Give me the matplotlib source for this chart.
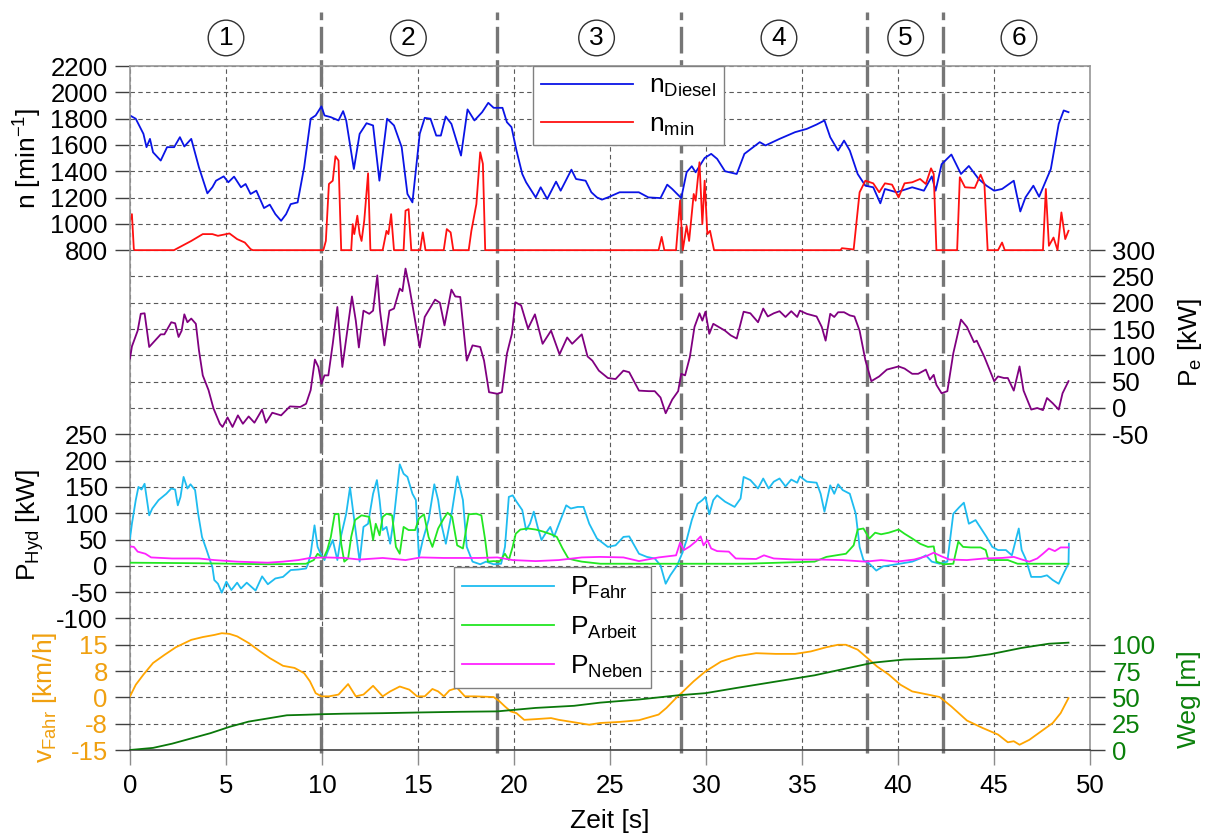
import numpy as np
import matplotlib
matplotlib.use("Agg")
import matplotlib.pyplot as plt

# ============================================================
# DATA
# ============================================================

# Engine speed n_Diesel [1/min]
t_n_diesel = [0, 0.3, 0.7, 0.86, 1.04, 1.2, 1.6, 1.93, 2.3, 2.6, 2.83, 3.19, 3.59, 4.03, 4.29,
              4.48, 4.88, 5.12, 5.42, 5.78, 6.02, 6.28, 6.58, 6.98, 7.28, 7.57, 7.87, 8.13, 8.37,
              8.73, 9.07, 9.41, 9.67, 9.97, 10.13, 10.46, 10.86, 11.1, 11.26, 11.66, 11.96, 12.32,
              12.66, 12.99, 13.39, 13.75, 14.15, 14.45, 14.71, 15.09, 15.35, 15.65, 15.95, 16.19,
              16.44, 16.74, 17.24, 17.58, 17.94, 18.34, 18.66, 18.94, 19.4, 19.63, 19.87, 20.13,
              20.43, 20.63, 21.13, 21.39, 21.73, 22.19, 22.43, 22.99, 23.23, 23.73, 24.03, 24.32,
              24.58, 24.89, 25.5, 26.5, 27.0, 27.63, 27.98, 28.24, 28.71, 28.99, 29.26, 29.46,
              29.93, 30.27, 30.58, 30.99, 31.6, 32.0, 32.8, 33.1, 33.83, 34.64, 35.25, 35.76,
              36.17, 36.47, 36.88, 37.19, 37.49, 37.9, 38.3, 38.71, 39.08, 39.32, 39.93, 40.74,
              41.35, 41.76, 41.96, 42.27, 42.78, 43.28, 43.69, 44.2, 44.61, 45.01, 45.42, 46.03,
              46.37, 46.64, 47.05, 47.35, 47.96, 48.37, 48.63, 48.88]
n_diesel = [1824, 1799, 1684, 1583, 1646, 1544, 1481, 1583, 1583, 1659, 1588, 1646, 1430, 1232, 1278,
            1328, 1361, 1316, 1359, 1278, 1303, 1227, 1252, 1120, 1146, 1074, 1023, 1074, 1150,
            1163, 1430, 1799, 1824, 1893, 1824, 1811, 1786, 1857, 1786, 1417, 1684, 1765,
            1748, 1328, 1799, 1748, 1583, 1227, 1163, 1684, 1806, 1799, 1671, 1671,
            1816, 1760, 1519, 1870, 1786, 1849, 1920, 1882, 1882, 1773, 1735, 1557,
            1379, 1316, 1201, 1278, 1189, 1321, 1252, 1412, 1341, 1328, 1240, 1201,
            1184, 1201, 1240, 1240, 1201, 1196, 1298, 1265, 1196, 1392, 1438, 1392,
            1501, 1532, 1494, 1400, 1379, 1532, 1621, 1596, 1646, 1697, 1722, 1755,
            1786, 1659, 1557, 1633, 1557, 1379, 1290, 1278, 1156, 1265, 1240, 1278,
            1252, 1361, 1252, 1453, 1527, 1379, 1440, 1341, 1290, 1252, 1265, 1328,
            1094, 1201, 1290, 1206, 1417, 1760, 1862, 1849]

# Minimum speed n_min [1/min]
t_n_min = [0, 0.1, 0.2, 0.25, 2.29, 3.19, 3.79, 4.29, 4.58, 5.18, 5.58, 5.98, 6.28, 6.4,
           10.07, 10.2, 10.36, 10.56, 10.7, 10.86, 11.0, 11.52, 11.6, 11.68, 11.84, 11.96, 12.06,
           12.2, 12.4, 12.52, 13.16, 13.36, 13.46, 13.6, 13.75, 14.25, 14.35, 14.51, 14.65,
           15.11, 15.25, 15.39, 16.34, 16.5, 16.7, 16.84, 17.64, 17.78, 18.04, 18.24, 18.38, 18.5,
           27.53, 27.69, 27.83, 28.44, 28.65, 28.79, 28.99, 29.12, 29.36, 29.46, 29.66, 29.81,
           29.93, 30.07, 30.21, 30.42, 37.0, 37.08, 37.69, 38.0, 38.3, 38.71, 39.02, 39.32,
           39.69, 40.03, 40.34, 40.74, 41.15, 41.45, 41.72, 41.86, 42.0, 43.08, 43.22, 43.49,
           44.0, 44.3, 44.5, 44.67, 45.21, 45.42, 45.56, 47.55, 47.7, 47.86, 48.1, 48.31, 48.51,
           48.71, 48.88]
n_min = [1024, 1074, 808, 800, 800, 870, 922, 922, 909, 927, 884, 858, 808, 800,
         800, 870, 1303, 1328, 1514, 1481, 800, 800, 998, 922, 1062, 922, 870,
         1024, 1384, 800, 800, 947, 922, 1074, 800, 800, 1100, 1112, 800,
         800, 935, 800, 800, 960, 935, 800, 800, 947, 1150, 1544, 1456, 800,
         800, 901, 800, 800, 1176, 800, 985, 870, 1227, 1176, 1468, 998,
         1328, 922, 947, 800, 800, 815, 805, 1240, 1328, 1308, 1240, 1308,
         1298, 1201, 1308, 1316, 1341, 1303, 1422, 1379, 800, 800, 1354, 1278,
         1273, 1374, 1303, 800, 800, 858, 800, 800, 1265, 833, 896, 800, 1087,
         884, 947]

# Engine power P_e [kW]
t_pe = [0, 0.1, 0.4, 0.56, 0.76, 1.0, 1.3, 1.6, 1.79, 2.15, 2.35, 2.53, 2.69, 2.83, 2.99, 3.19,
        3.43, 3.59, 3.79, 4.09, 4.35, 4.68, 4.82, 5.08, 5.34, 5.62, 5.88, 6.18, 6.48, 6.88, 7.08,
        7.41, 7.87, 8.33, 8.87, 9.17, 9.41, 9.63, 9.81, 9.97, 10.13, 10.33, 10.56, 10.8, 11.06,
        11.32, 11.56, 11.76, 11.92, 12.16, 12.46, 12.66, 12.88, 13.02, 13.25, 13.51, 13.75,
        14.05, 14.19, 14.35, 14.55, 14.85, 15.09, 15.35, 15.89, 16.14, 16.38, 16.74, 16.94,
        17.2, 17.54, 17.84, 18.24, 18.44, 18.7, 19.13, 19.37, 19.63, 19.89, 20.07, 20.37,
        20.73, 21.09, 21.49, 21.93, 22.37, 22.77, 23.03, 23.53, 23.83, 24.08, 24.42,
        24.89, 25.29, 25.7, 26.0, 26.51, 27.02, 27.33, 27.63, 27.9, 28.24, 28.55, 28.71, 28.91,
        29.16, 29.4, 29.66, 29.81, 29.97, 30.17, 30.38, 30.99, 31.29, 31.6, 31.96, 32.31,
        32.71, 32.98, 33.22, 33.53, 33.83, 34.14, 34.44, 34.75, 34.89, 35.25, 35.76, 36.03,
        36.23, 36.47, 36.68, 36.88, 37.19, 37.49, 37.73, 38.0, 38.3, 38.61, 39.02, 39.42,
        40.03, 40.34, 40.74, 41.05, 41.45, 41.66, 41.86, 42.0, 42.27, 42.57, 42.88, 43.28,
        43.59, 43.96, 44.1, 44.5, 45.01, 45.21, 45.52, 45.72, 46.03, 46.33, 46.54, 46.94,
        47.25, 47.55, 47.76, 48.06, 48.37, 48.57, 48.88]
p_e = [94, 117, 147, 179, 180, 116, 128, 140, 140, 163, 161, 135, 147, 178, 163, 170,
       160, 110, 62, 34, -1, -30, -36, -18, -36, -14, -30, -16, -28, -3, -28,
       -9, -14, 3, 2, 8, 34, 92, 78, 46, 62, 62, 122, 192, 78,
       147, 212, 166, 115, 185, 179, 185, 252, 185, 119, 185, 189,
       227, 222, 265, 230, 166, 115, 173, 206, 200, 157, 225, 212,
       211, 90, 119, 116, 90, 30, 27, 30, 103, 141, 201, 195,
       151, 178, 122, 147, 102, 134, 122, 140, 98, 90, 71,
       57, 55, 71, 68, 33, 32, 32, 20, -10, 16, 32, 65, 62,
       97, 154, 180, 166, 183, 141, 160, 147, 138, 132, 183, 180,
       163, 189, 174, 180, 184, 173, 184, 173, 185, 179, 174, 154,
       128, 179, 173, 182, 182, 176, 174, 147, 91, 51, 60, 73,
       79, 75, 65, 65, 73, 54, 63, 44, 28, 32, 104, 168,
       154, 125, 128, 97, 51, 60, 57, 57, 33, 79, 33, -3,
       0, -4, 19, 9, -3, 28, 51]

# Hydraulic power, drive P_Fahr [kW]
t_fahr = [0, 0.1, 0.3, 0.44, 0.6, 0.76, 1.0, 1.16, 1.49, 1.89, 2.15, 2.35, 2.49, 2.63, 2.79, 2.99,
          3.15, 3.39, 3.55, 3.75, 3.99, 4.19, 4.29, 4.39, 4.58, 4.78, 5.02, 5.28, 5.58, 5.78, 6.08,
          6.54, 6.88, 7.18, 7.57, 7.97, 8.37, 8.77, 9.17, 9.27, 9.41, 9.61, 9.77, 9.93, 10.13,
          10.33, 10.56, 10.8, 11.0, 11.26, 11.46, 11.66, 11.96, 12.16, 12.4, 12.66, 12.86, 13.0,
          13.16, 13.36, 13.55, 13.75, 14.05, 14.25, 14.45, 14.71, 14.89, 15.05, 15.25, 15.55,
          15.85, 16.05, 16.25, 16.45, 16.75, 17.05, 17.34, 17.54, 17.84, 18.24, 18.54, 18.94,
          19.33, 19.53, 19.73, 19.93, 20.13, 20.43, 20.63, 20.83, 21.03, 21.23, 21.43, 21.63,
          21.89, 22.08, 22.42, 22.72, 22.96, 23.32, 23.62, 23.92, 24.32, 24.89, 25.29, 25.7,
          26.0, 26.51, 26.92, 27.33, 27.63, 27.9, 28.14, 28.5, 28.75, 28.99, 29.26, 29.56, 29.81,
          29.97, 30.17, 30.38, 30.58, 30.99, 31.49, 31.8, 31.96, 32.31, 32.71, 32.98, 33.26,
          33.53, 33.83, 34.14, 34.44, 34.75, 34.89, 35.25, 35.76, 35.97, 36.17, 36.47, 36.68,
          36.88, 37.12, 37.49, 37.8, 38.0, 38.2, 38.51, 38.87, 39.22, 39.93, 40.74, 41.15,
          41.45, 41.76, 42.17, 42.57, 42.88, 43.18, 43.43, 43.69, 44.04, 44.61, 44.91, 45.21,
          45.62, 45.93, 46.29, 46.44, 46.64, 46.94, 47.45, 47.76, 48.06, 48.37, 48.67, 48.88,
          48.9]
p_fahr = [52, 80, 125, 150, 145, 156, 96, 109, 125, 137, 147, 145, 115, 131, 169, 147,
          155, 144, 99, 55, 30, 8, -2, -27, -34, -51, -30, -46, -32, -43, -32,
          -47, -20, -35, -24, -21, -8, -7, -5, 3, 23, 77, 36, 23, 11,
          30, 49, 11, 58, 99, 149, 93, 8, 74, 80, 137, 163, 125,
          68, 74, 42, 93, 193, 175, 169, 137, 125, 17, 49, 87,
          155, 125, 74, 42, 99, 170, 125, 36, 8, 3, 8, 3,
          4, 36, 131, 134, 122, 106, 68, 80, 103, 74, 49, 61,
          74, 55, 87, 115, 109, 112, 112, 80, 52, 36, 39, 55,
          56, 23, 17, 14, 1, -34, -18, 1, 23, 49, 87, 118, 125,
          131, 98, 125, 134, 122, 112, 128, 169, 163, 147, 166, 147,
          160, 166, 151, 164, 158, 170, 160, 158, 137, 103, 153, 137,
          155, 144, 137, 99, 36, 11, 4, -9, -1, 3, 8, 14,
          20, 8, 4, 8, 99, 111, 120, 80, 87, 55, 36, 30,
          30, 20, 71, 30, 14, -21, -21, -18, -27, -34, -11, 4,
          42]

# Hydraulic power, working hydraulics P_Arbeit [kW]
t_arbeit = [0, 3.5, 7.18, 9.17, 9.57, 9.77, 10.07, 10.27, 10.46, 10.66, 10.86, 11.0, 11.16, 11.36,
            11.52, 11.72, 12.06, 12.46, 12.66, 12.8, 13.0, 13.16, 13.36, 13.65, 13.85, 14.05,
            14.25, 14.51, 14.85, 15.05, 15.31, 15.55, 15.75, 16.05, 16.34, 16.54, 16.78, 17.04,
            17.34, 17.64, 18.04, 18.3, 18.5, 18.64, 18.94, 19.24, 19.53, 19.73, 19.93, 20.09,
            20.33, 20.73, 21.13, 21.53, 21.93, 22.23, 22.53, 22.83, 23.13, 23.53, 24.5, 32.0,
            35.66, 36.27, 37.29, 37.69, 37.9, 38.2, 38.51, 38.81, 39.12, 39.52, 40.03, 40.34,
            40.74, 41.15, 41.56, 41.86, 42.0, 42.37, 42.88, 43.14, 43.39, 43.79, 44.3, 44.57,
            44.71, 45.21, 45.72, 46.23, 48.88]
p_arbeit = [6, 5, 3, 4, 11, 23, 14, 30, 55, 98, 99, 42, 8, 14,
            55, 87, 96, 93, 49, 80, 58, 93, 99, 96, 36, 23,
            74, 68, 68, 90, 98, 55, 36, 71, 90, 101, 93, 39,
            33, 98, 99, 96, 49, 8, 9, 8, 23, 11, 36, 61,
            69, 71, 69, 65, 60, 55, 33, 14, 11, 8, 4, 4,
            8, 17, 23, 39, 69, 71, 52, 63, 60, 63, 69, 61,
            52, 42, 36, 37, 8, 3, 4, 46, 36, 35, 35, 30,
            11, 11, 11, 4, 4]

# Hydraulic power, auxiliaries P_Neben [kW]
t_neben = [0, 0.2, 0.4, 0.8, 1.1, 2.19, 3.59, 4.39, 5.58, 7.18, 7.97, 8.77, 9.37, 10.17, 11.16,
           11.96, 13.16, 14.35, 15.15, 16.34, 18.14, 19.13, 19.93, 21.13, 22.33, 23.53, 24.48,
           25.7, 26.51, 27.53, 28.44, 28.65, 28.85, 29.16, 29.46, 29.72, 29.87, 30.07, 30.27,
           30.58, 31.19, 31.55, 32.61, 33.02, 33.53, 34.64, 35.86, 37.08, 38.3, 39.12, 39.93,
           40.84, 41.45, 41.86, 42.27, 42.68, 43.59, 44.5, 45.42, 46.03, 46.54, 46.84, 47.25,
           47.55, 47.86, 48.17, 48.47, 48.88]
p_neben = [37, 36, 27, 23, 16, 14, 14, 11, 8, 6, 8, 11, 15, 16, 15,
           12, 15, 11, 16, 15, 15, 16, 11, 9, 11, 16, 17,
           16, 9, 16, 20, 44, 30, 37, 46, 56, 39, 49, 33,
           28, 27, 14, 13, 20, 14, 12, 12, 11, 8, 11, 8,
           12, 18, 25, 18, 12, 11, 14, 15, 17, 11, 8, 14,
           23, 33, 28, 35, 35]

# Driving speed v_Fahr [km/h]
t_v = [0, 0.3, 0.7, 1.2, 1.79, 2.39, 3.19, 3.79, 4.39, 4.78, 5.18, 5.58, 6.18, 6.78, 7.28, 7.97,
       8.57, 9.07, 9.37, 9.67, 9.97, 10.37, 10.86, 11.36, 11.76, 12.16, 12.66, 13.16, 13.55,
       14.05, 14.55, 14.95, 15.35, 15.75, 16.05, 16.35, 16.64, 17.04, 17.44, 17.94, 18.94,
       19.24, 19.53, 19.83, 20.13, 20.53, 21.13, 21.93, 22.33, 23.13, 23.92, 24.48, 25.5,
       26.51, 27.53, 27.94, 28.44, 28.75, 29.36, 29.97, 30.78, 31.6, 32.61, 33.63, 34.64,
       35.46, 36.27, 36.88, 37.29, 37.9, 38.41, 38.91, 39.52, 40.13, 40.74, 41.56, 42.17,
       42.78, 43.59, 44.4, 45.21, 45.72, 46.03, 46.33, 46.84, 47.45, 48.06, 48.47, 48.88]
v_fahr = [0.3, 3.6, 6.5, 9.8, 12.1, 14.3, 16.4, 17.2, 17.8, 18.3, 18.1, 17.4, 15.5, 13.1, 11.2, 9.0,
          8.4, 6.9, 4.6, 1.2, 0.3, 0.3, 0.8, 3.8, 0.3, 0.8, 3.3, 0.3, 1.7,
          3.1, 2.2, 0.3, 0.3, 2.4, 1.7, 0.3, 2.0, 2.7, 0.3, 0.3, 0.1,
          -1.1, -2.6, -4.0, -4.5, -6.4, -6.2, -5.9, -6.4, -7.1, -7.8, -7.3, -7.0,
          -6.5, -4.9, -3.0, -0.2, 1.4, 4.6, 7.4, 10.2, 11.7, 12.6, 12.4, 12.4,
          13.1, 14.3, 15.0, 15.0, 13.6, 11.2, 8.8, 6.5, 3.6, 1.7, 0.8, 0.1,
          -2.6, -6.6, -8.7, -10.6, -12.8, -12.5, -13.5, -12.1, -9.7, -7.3, -4.5, -0.2]

# Travelled distance Weg [m]
t_weg = [0, 1.2, 2.19, 3.19, 4.19, 5.18, 6.18, 7.18, 8.17, 9.17, 9.97, 11.16, 13.16, 15.15, 17.14,
         19.13, 21.13, 23.13, 24.48, 26.51, 28.55, 29.97, 31.6, 33.63, 35.66, 37.69, 38.71,
         40.34, 42.37, 43.59, 44.81, 46.44, 47.86, 48.88]
weg = [0, 2, 6, 11, 16, 22, 27, 30, 33, 33.5, 34, 34.5, 35, 35.7, 36.3,
       36.7, 40, 42, 45, 48, 52, 54, 59, 65, 71, 79, 83,
       86, 87, 88, 91, 97, 101, 102]

# Phase boundaries [s] and phase labels
phase_bounds = [9.97, 19.14, 28.71, 38.36, 42.33]
phase_centers = [5.0, 14.5, 24.3, 33.8, 40.4, 46.3]
phase_labels = ["1", "2", "3", "4", "5", "6"]

# Axis ticks
n_ticks = [800, 1000, 1200, 1400, 1600, 1800, 2000, 2200]
pe_ticks = [-50, 0, 50, 100, 150, 200, 250, 300]
hyd_ticks = [-100, -50, 0, 50, 100, 150, 200, 250]
v_ticks = [-15, -7.5, 0, 7.5, 15]
v_tick_labels = ["-15", "-8", "0", "8", "15"]
weg_ticks = [0, 25, 50, 75, 100]

# ============================================================
# SETTINGS
# ============================================================

OUT_PNG = "out.png"

FS = 19
TICK_FS = 18.5

C_DIESEL = "#0a14e6"
C_NMIN = "#ff1010"
C_PE = "#800080"
C_FAHR = "#1ebcf0"
C_ARBEIT = "#22e622"
C_NEBEN = "#ff22ff"
C_V = "#ffa500"
C_V_TXT = "#f0a010"
C_WEG = "#0a780a"
C_WEG_TXT = "#0a800a"

# limits chosen so that all signals share one 26-step grid
N_LIM = (-3000, 2200)
PE_LIM = (-650, 650)
HYD_LIM = (-350, 950)
V_LIM = (-15, 180)
WEG_LIM = (0, 650)

plt.rcParams["font.family"] = ["Liberation Sans", "DejaVu Sans"]
plt.rcParams["mathtext.default"] = "regular"
plt.rcParams["axes.unicode_minus"] = False

# ============================================================
# PLOT
# ============================================================

fig = plt.figure(figsize=(12.12, 8.36), dpi=100)
ax_n = fig.add_axes([130 / 1212, 1 - 750 / 836, 960 / 1212, 684 / 836])

ax_pe = ax_n.twinx()
ax_hyd = ax_n.twinx()
ax_v = ax_n.twinx()
ax_w = ax_n.twinx()

ax_hyd.yaxis.tick_left()
ax_hyd.yaxis.set_label_position("left")
ax_v.yaxis.tick_left()
ax_v.yaxis.set_label_position("left")

for ax in [ax_pe, ax_hyd, ax_v, ax_w]:
    for sp in ax.spines.values():
        sp.set_visible(False)

for side in ["left", "top", "right"]:
    ax_n.spines[side].set_color("#969696")
    ax_n.spines[side].set_linewidth(1.2)
ax_n.spines["bottom"].set_color("#404040")
ax_n.spines["bottom"].set_linewidth(1.2)

ax_n.set_xlim(0, 50)
ax_n.set_ylim(*N_LIM)
ax_pe.set_ylim(*PE_LIM)
ax_hyd.set_ylim(*HYD_LIM)
ax_v.set_ylim(*V_LIM)
ax_w.set_ylim(*WEG_LIM)

# grid: major ticks for n, minor ticks fill the rest of the common grid
ax_n.set_xticks(range(0, 51, 5))
ax_n.set_yticks(n_ticks)
ax_n.set_yticks(np.arange(N_LIM[0] + 200, 800, 200), minor=True)
ax_n.grid(True, which="both", color="#5a5a5a", linestyle=(0, (4, 3)), linewidth=0.8)
ax_n.set_axisbelow(True)

ax_n.tick_params(axis="y", which="major", direction="out", length=11, width=1,
                 color="#404040", labelsize=TICK_FS, pad=5)
ax_n.tick_params(axis="y", which="minor", length=0)
ax_n.tick_params(axis="x", direction="out", length=11, width=1, color="#8c8c8c",
                 labelsize=TICK_FS, pad=6)

ax_pe.set_yticks(pe_ticks)
ax_hyd.set_yticks(hyd_ticks)
ax_v.set_yticks(v_ticks)
ax_v.set_yticklabels(v_tick_labels)
ax_w.set_yticks(weg_ticks)

for ax in [ax_pe, ax_hyd, ax_v, ax_w]:
    ax.tick_params(axis="y", direction="out", length=11, width=1, color="#404040",
                   labelsize=TICK_FS, pad=5)
ax_v.tick_params(axis="y", labelcolor=C_V_TXT)
ax_w.tick_params(axis="y", labelcolor=C_WEG_TXT)

# phase separators
for tb in phase_bounds:
    ax_n.axvline(tb, ymin=-0.005, ymax=1.079, color="#767676", linewidth=2.4,
                 linestyle=(0, (8, 2)), clip_on=False, zorder=1.8)

for tc, lab in zip(phase_centers, phase_labels):
    ax_n.text(tc, 1.041, lab, transform=ax_n.get_xaxis_transform(), fontsize=FS,
              ha="center", va="center",
              bbox=dict(boxstyle="circle,pad=0.22", fc="white", ec="#303030", lw=1))

# signals
lw = 1.3
l_diesel, = ax_n.plot(t_n_diesel, n_diesel, color=C_DIESEL, lw=lw, label="n$_{Diesel}$")
l_nmin, = ax_n.plot(t_n_min, n_min, color=C_NMIN, lw=lw, label="n$_{min}$")
ax_pe.plot(t_pe, p_e, color=C_PE, lw=lw)
l_fahr, = ax_hyd.plot(t_fahr, p_fahr, color=C_FAHR, lw=lw, label="P$_{Fahr}$")
l_arbeit, = ax_hyd.plot(t_arbeit, p_arbeit, color=C_ARBEIT, lw=lw, label="P$_{Arbeit}$")
l_neben, = ax_hyd.plot(t_neben, p_neben, color=C_NEBEN, lw=lw, label="P$_{Neben}$")
ax_v.plot(t_v, v_fahr, color=C_V, lw=lw)
ax_w.plot(t_weg, weg, color=C_WEG, lw=lw)

# axis labels
ax_n.set_xlabel("Zeit [s]", fontsize=FS, labelpad=8)
ax_n.set_ylabel("n [min$^{-1}$]", fontsize=FS, va="center")
ax_n.yaxis.set_label_coords(-0.106, 0.865)
ax_hyd.set_ylabel("P$_{Hyd}$ [kW]", fontsize=FS, va="center")
ax_hyd.yaxis.set_label_coords(-0.104, 0.329)
ax_v.set_ylabel("v$_{Fahr}$ [km/h]", fontsize=FS, color=C_V_TXT, va="center")
ax_v.yaxis.set_label_coords(-0.0885, 0.077)
ax_pe.set_ylabel("P$_e$ [kW]", fontsize=FS, va="center")
ax_pe.yaxis.set_label_coords(1.104, 0.596)
ax_w.set_ylabel("Weg [m]", fontsize=FS, color=C_WEG_TXT, va="center")
ax_w.yaxis.set_label_coords(1.103, 0.075)

# legends (on the top-most axes so they cover the curves)
leg_kw = dict(fontsize=FS, frameon=True, fancybox=False, framealpha=1, edgecolor="#808080",
              borderpad=0.3, labelspacing=0.5, handlelength=3.5, handletextpad=0.6,
              borderaxespad=0, loc="upper left")
leg1 = ax_w.legend(handles=[l_diesel, l_nmin], bbox_to_anchor=(0.42, 1.0), **leg_kw)
leg1.get_frame().set_linewidth(1)
ax_w.add_artist(leg1)
leg2 = ax_w.legend(handles=[l_fahr, l_arbeit, l_neben], bbox_to_anchor=(0.3375, 0.2675), **leg_kw)
leg2.get_frame().set_linewidth(1)

fig.savefig(OUT_PNG, dpi=100)
print("Saved:", OUT_PNG)
